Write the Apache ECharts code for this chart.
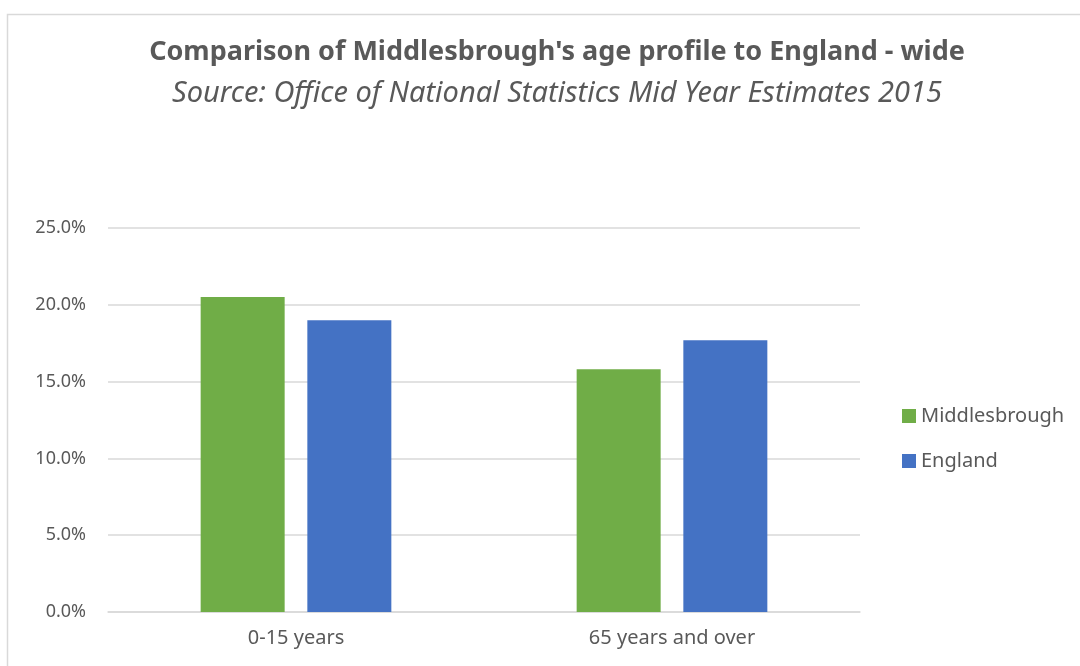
<!DOCTYPE html>
<html>
<head>
<meta charset="utf-8">
<script src="https://cdn.jsdelivr.net/npm/echarts@6/dist/echarts.min.js"></script>
<style>
  html, body { margin: 0; padding: 0; background: #fff; }
  #chart { width: 1080px; height: 666px; }
</style>
</head>
<body>
<div id="chart"></div>
<script>
var categories = ["0-15 years", "65 years and over"];
var middlesbrough = [20.5, 15.8];
var england = [19.0, 17.7];

var myChart = echarts.init(document.getElementById("chart"));
var font = "Noto Sans";
var option = {
  backgroundColor: "#fff",
  animation: false,
  graphic: [
    {
      type: "rect",
      left: 5,
      top: 12,
      shape: { width: 1100, height: 700 },
      style: { fill: "none", stroke: "#d9d9d9", lineWidth: 1.5 },
      silent: true
    }
  ],
  title: [
    {
      text: "Comparison of Middlesbrough's age profile to England - wide",
      left: 552,
      textAlign: "center",
      top: 34,
      textStyle: { fontFamily: font, fontSize: 27, fontWeight: "bold", color: "#595959" }
    },
    {
      text: "Source: Office of National Statistics Mid Year Estimates 2015",
      left: 552,
      textAlign: "center",
      top: 74,
      textStyle: { fontFamily: font, fontSize: 29, fontStyle: "italic", fontWeight: "normal", color: "#595959" }
    }
  ],
  legend: {
    orient: "vertical",
    left: 897,
    top: 401,
    itemWidth: 14,
    itemHeight: 14,
    itemGap: 25,
    icon: "rect",
    textStyle: { fontFamily: font, fontSize: 20, color: "#595959" },
    data: ["Middlesbrough", "England"]
  },
  grid: { left: 108, right: 220, top: 228, bottom: 54 },
  xAxis: {
    type: "category",
    data: categories,
    axisLine: { lineStyle: { color: "#d9d9d9", width: 1.5 } },
    axisTick: { show: false },
    axisLabel: { fontFamily: font, fontSize: 20, color: "#595959", margin: 16 }
  },
  yAxis: {
    type: "value",
    min: 0,
    max: 25,
    interval: 5,
    axisLine: { show: false },
    axisTick: { show: false },
    splitLine: { lineStyle: { color: "#d9d9d9", width: 1.5 } },
    axisLabel: {
      fontFamily: font, fontSize: 18, color: "#595959", margin: 22,
      formatter: function (v) { return v.toFixed(1) + "%"; }
    }
  },
  series: [
    {
      name: "Middlesbrough",
      type: "bar",
      data: middlesbrough,
      barWidth: 84,
      barGap: "27%",
      itemStyle: { color: "#70ad47" }
    },
    {
      name: "England",
      type: "bar",
      data: england,
      barWidth: 84,
      itemStyle: { color: "#4472c4" }
    }
  ]
};
myChart.setOption(option);
</script>
</body>
</html>
